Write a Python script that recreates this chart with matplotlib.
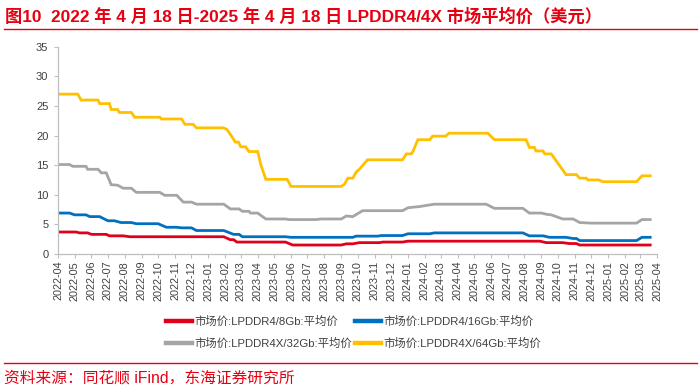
import matplotlib
matplotlib.use("Agg")
from matplotlib import pyplot as plt
import matplotlib.dates as mdates
import pandas as pd

plt.rcParams['font.family'] = ['Liberation Sans', 'Noto Sans CJK SC', 'DejaVu Sans']

# change points (date, USD)
d8 = ['2022-04-18', '2022-05-21', '2022-05-27', '2022-06-11', '2022-06-18', '2022-07-15',
      '2022-07-21', '2022-08-15', '2022-08-27', '2023-02-15', '2023-02-27', '2023-03-05',
      '2023-03-11', '2023-06-08', '2023-06-21', '2023-09-18', '2023-09-27', '2023-10-09',
      '2023-10-21', '2023-11-27', '2023-12-03', '2024-01-08', '2024-01-18', '2024-09-15',
      '2024-09-27', '2024-10-27', '2024-11-08', '2024-11-21', '2024-11-27', '2025-04-05']
v8 = [3.7, 3.7, 3.55, 3.55, 3.3, 3.3,
      3.05, 3.05, 2.9, 2.9, 2.4, 2.4,
      2.0, 2.0, 1.5, 1.5, 1.7, 1.7,
      1.9, 1.9, 2.0, 2.0, 2.15, 2.15,
      1.9, 1.9, 1.75, 1.75, 1.5, 1.5]

d16 = ['2022-04-18', '2022-05-09', '2022-05-18', '2022-06-08', '2022-06-15', '2022-07-03',
       '2022-07-18', '2022-07-30', '2022-08-11', '2022-08-30', '2022-09-08', '2022-10-18',
       '2022-11-02', '2022-11-21', '2022-11-30', '2022-12-18', '2022-12-27', '2023-02-15',
       '2023-03-05', '2023-03-15', '2023-03-21', '2023-06-08', '2023-06-18', '2023-10-09',
       '2023-10-15', '2023-11-24', '2023-11-30', '2024-01-08', '2024-01-18', '2024-02-27',
       '2024-03-06', '2024-08-15', '2024-08-27', '2024-09-21', '2024-10-03', '2024-11-02',
       '2024-11-15', '2024-11-21', '2024-11-27', '2025-03-11', '2025-03-21', '2025-04-05']
v16 = [6.9, 6.9, 6.6, 6.6, 6.3, 6.3,
       5.6, 5.6, 5.3, 5.3, 5.1, 5.1,
       4.5, 4.5, 4.4, 4.4, 3.95, 3.95,
       3.3, 3.3, 2.9, 2.9, 2.8, 2.8,
       3.0, 3.0, 3.1, 3.1, 3.4, 3.4,
       3.55, 3.55, 3.05, 3.05, 2.8, 2.8,
       2.6, 2.6, 2.25, 2.25, 2.8, 2.8]

d32 = ['2022-04-18', '2022-05-09', '2022-05-15', '2022-06-08', '2022-06-11', '2022-06-30',
       '2022-07-06', '2022-07-15', '2022-07-24', '2022-08-05', '2022-08-15', '2022-08-30',
       '2022-09-08', '2022-10-21', '2022-10-30', '2022-11-21', '2022-12-03', '2022-12-18',
       '2022-12-27', '2023-02-15', '2023-02-27', '2023-03-15', '2023-03-21', '2023-04-02',
       '2023-04-05', '2023-04-18', '2023-05-03', '2023-06-08', '2023-06-15', '2023-08-03',
       '2023-08-12', '2023-09-18', '2023-09-27', '2023-10-09', '2023-10-27', '2024-01-08',
       '2024-01-18', '2024-02-08', '2024-03-06', '2024-06-09', '2024-06-24', '2024-08-15',
       '2024-08-27', '2024-09-18', '2024-09-27', '2024-10-06', '2024-10-27', '2024-11-15',
       '2024-11-27', '2024-12-18', '2025-03-11', '2025-03-21', '2025-04-05']
v32 = [15.1, 15.1, 14.8, 14.8, 14.3, 14.3,
       13.7, 13.7, 11.7, 11.6, 11.1, 11.1,
       10.4, 10.4, 9.9, 9.9, 8.75, 8.75,
       8.4, 8.4, 7.6, 7.6, 7.2, 7.2,
       6.9, 6.9, 5.9, 5.9, 5.8, 5.8,
       5.9, 5.9, 6.4, 6.3, 7.3, 7.3,
       7.8, 8.0, 8.4, 8.4, 7.7, 7.7,
       6.9, 6.9, 6.7, 6.6, 5.9, 5.9,
       5.3, 5.2, 5.2, 5.8, 5.8]

d64 = ['2022-04-18', '2022-05-24', '2022-05-30', '2022-06-30', '2022-07-03', '2022-07-21',
       '2022-07-24', '2022-08-05', '2022-08-08', '2022-08-30', '2022-09-05', '2022-10-21',
       '2022-10-24', '2022-11-30', '2022-12-06', '2022-12-21', '2022-12-27', '2023-02-15',
       '2023-02-21', '2023-03-02', '2023-03-08', '2023-03-14', '2023-03-18', '2023-03-27',
       '2023-04-02', '2023-04-18', '2023-04-24', '2023-05-03', '2023-06-11', '2023-06-18',
       '2023-09-18', '2023-09-24', '2023-09-30', '2023-10-09', '2023-10-15', '2023-10-21',
       '2023-11-05', '2024-01-08', '2024-01-15', '2024-01-24', '2024-01-27', '2024-02-05',
       '2024-02-27', '2024-03-03', '2024-03-27', '2024-04-02', '2024-06-12', '2024-06-24',
       '2024-08-21', '2024-08-27', '2024-09-05', '2024-09-08', '2024-09-21', '2024-09-24',
       '2024-10-06', '2024-11-02', '2024-11-21', '2024-11-27', '2024-12-09', '2024-12-12',
       '2025-01-01', '2025-01-08', '2025-03-11', '2025-03-21', '2025-04-05']
v64 = [27, 27, 26, 26, 25.4, 25.4,
       24.4, 24.4, 23.9, 23.9, 23.1, 23.1,
       22.8, 22.8, 21.9, 21.9, 21.3, 21.3,
       21.0, 19.8, 18.9, 18.9, 18.1, 18.1,
       17.3, 17.3, 15.0, 12.6, 12.6, 11.4,
       11.4, 11.8, 12.8, 12.8, 13.8, 14.3,
       15.9, 15.9, 16.9, 16.9, 17.3, 19.3,
       19.3, 19.9, 19.9, 20.4, 20.4, 19.3,
       19.3, 18.0, 18.0, 17.4, 17.4, 16.9,
       16.9, 13.4, 13.4, 12.8, 12.8, 12.5,
       12.5, 12.2, 12.2, 13.2, 13.2]

names = ['市场价:LPDDR4/8Gb:平均价', '市场价:LPDDR4/16Gb:平均价',
         '市场价:LPDDR4X/32Gb:平均价', '市场价:LPDDR4X/64Gb:平均价']
colors = ['#E0001B', '#0070C0', '#A5A5A5', '#FFC000']

red = '#E60012'

fig = plt.figure(figsize=(7, 3.9), dpi=100)
ax = fig.add_axes([0.083, 0.349, 0.856, 0.531])

series = [(d8, v8), (d16, v16), (d32, v32), (d64, v64)]
lines = []
for (d, v), name, c in zip(series, names, colors):
    ln, = ax.plot(pd.to_datetime(d), v, color=c, lw=2.0, label=name, solid_joinstyle='miter')
    lines.append(ln)

start = pd.Timestamp('2022-04-18')
end = pd.Timestamp('2025-04-18')
ticks = pd.date_range(start, end, freq=pd.DateOffset(months=1))
ax.set_xlim(start, end)
ax.set_xticks(ticks)
ax.xaxis.set_major_formatter(mdates.DateFormatter('%Y-%m'))
ax.set_ylim(0, 35)
ax.set_yticks(range(0, 36, 5))

for s in ['top', 'right']:
    ax.spines[s].set_visible(False)
for s in ['left', 'bottom']:
    ax.spines[s].set_color('#BFBFBF')
    ax.spines[s].set_linewidth(0.9)
ax.tick_params(axis='x', direction='out', length=3, color='#BFBFBF', labelsize=7.8,
               labelcolor='#404040', labelrotation=90, pad=2)
ax.tick_params(axis='y', direction='out', length=3, color='#BFBFBF', labelsize=8,
               labelcolor='#404040', pad=4)

# legend: row1 8Gb/16Gb, row2 32Gb/64Gb
leg = fig.legend([lines[0], lines[2], lines[1], lines[3]],
                 [names[0], names[2], names[1], names[3]],
                 ncol=2, loc='center', bbox_to_anchor=(0.505, 0.147), frameon=False,
                 fontsize=8.2, handlelength=2.3, handletextpad=0.15, columnspacing=0.3,
                 labelspacing=0.95)
for h in leg.legend_handles:
    h.set_linewidth(3.2)
for t in leg.get_texts():
    t.set_color('#404040')

fig.text(0.007, 0.958, '图10  2022 年 4 月 18 日-2025 年 4 月 18 日 LPDDR4/4X 市场平均价（美元）',
         color=red, fontsize=12.4, fontweight='bold', va='center', ha='left')
fig.add_artist(plt.Line2D([0.005, 0.995], [0.926, 0.926], color=red, lw=1.0,
                          transform=fig.transFigure))
fig.add_artist(plt.Line2D([0.005, 0.995], [0.070, 0.070], color=red, lw=1.0,
                          transform=fig.transFigure))
fig.text(0.005, 0.031, '资料来源：同花顺 iFind，东海证券研究所', color=red, fontsize=11.3,
         va='center', ha='left')

fig.savefig('out.png', dpi=100)
